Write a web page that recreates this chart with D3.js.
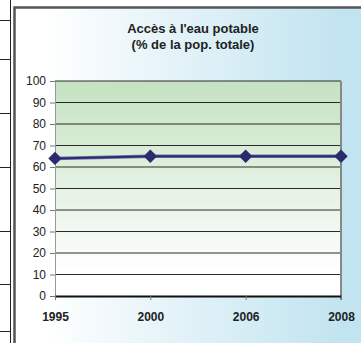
<!DOCTYPE html>
<html>
<head>
<meta charset="utf-8">
<script src="https://cdn.jsdelivr.net/npm/d3@7"></script>
<style>
  body { margin: 0; background: #fff; }
  svg { display: block; font-family: "Liberation Sans", Arial, sans-serif; }
</style>
</head>
<body>
<svg width="361" height="343"></svg>
<script>
// data
const years = ["1995", "2000", "2006", "2008"];
const acces = [64, 65, 65, 65];
const yTicks = [0, 10, 20, 30, 40, 50, 60, 70, 80, 90, 100];
const titleLines = ["Accès à l'eau potable", "(% de la pop. totale)"];

// bits of the neighbouring table on the left
const tableRows = [20, 59, 113, 167, 231, 284, 331];

const svg = d3.select("svg");
const width = +svg.attr("width");
const height = +svg.attr("height");
const margin = {top: 81, right: 20, bottom: 47, left: 55};

const defs = svg.append("defs");
const bg = defs.append("linearGradient").attr("id", "bg")
  .attr("x1", "0%").attr("x2", "100%").attr("y1", "0%").attr("y2", "0%");
bg.append("stop").attr("offset", "8%").attr("stop-color", "#ffffff");
bg.append("stop").attr("offset", "90%").attr("stop-color", "#c2e4f0");

const plotBg = defs.append("linearGradient").attr("id", "plotBg")
  .attr("x1", "0%").attr("x2", "0%").attr("y1", "0%").attr("y2", "100%");
plotBg.append("stop").attr("offset", "0%").attr("stop-color", "#c4e2c1");
plotBg.append("stop").attr("offset", "90%").attr("stop-color", "#ffffff");

// table fragment
svg.append("line")
  .attr("x1", 10.5).attr("x2", 10.5).attr("y1", 0).attr("y2", height)
  .attr("stroke", "#222").attr("stroke-width", 1);
svg.selectAll(".row")
  .data(tableRows)
  .enter().append("line")
  .attr("class", "row")
  .attr("x1", 0).attr("x2", 10).attr("y1", d => d + 0.5).attr("y2", d => d + 0.5)
  .attr("stroke", "#222");

// chart frame
svg.append("rect")
  .attr("x", 14.5).attr("y", 7.5)
  .attr("width", width).attr("height", height)
  .attr("fill", "url(#bg)")
  .attr("stroke", "#555").attr("stroke-width", 2.5);

const x = d3.scalePoint()
  .domain(years)
  .range([margin.left, width - margin.right]);
const y = d3.scaleLinear()
  .domain([0, 100])
  .range([height - margin.bottom, margin.top]);

// plot area
svg.append("rect")
  .attr("x", margin.left).attr("y", y(100))
  .attr("width", x.range()[1] - margin.left)
  .attr("height", y(0) - y(100))
  .attr("fill", "url(#plotBg)");

// gridlines
svg.selectAll(".grid")
  .data(yTicks.filter(d => d > 0))
  .enter().append("line")
  .attr("class", "grid")
  .attr("x1", margin.left).attr("x2", x.range()[1])
  .attr("y1", d => y(d)).attr("y2", d => y(d))
  .attr("stroke", "#2a2a2a").attr("stroke-width", 1);

// right edge of plot
svg.append("line")
  .attr("x1", x.range()[1]).attr("x2", x.range()[1])
  .attr("y1", y(100)).attr("y2", y(0) + 4)
  .attr("stroke", "#888").attr("stroke-width", 2);

// y axis
const yAxis = svg.append("g")
  .attr("transform", `translate(${margin.left},0)`)
  .call(d3.axisLeft(y).tickValues(yTicks).tickSize(5).tickSizeOuter(0).tickPadding(4));
yAxis.select(".domain").attr("stroke", "#999");
yAxis.selectAll(".tick line").attr("stroke", "#777");
yAxis.selectAll("text").attr("font-size", 12).attr("fill", "#222")
  .attr("font-family", "Liberation Sans, Arial, sans-serif");

// x axis
const xAxis = svg.append("g")
  .attr("transform", `translate(0,${y(0)})`)
  .call(d3.axisBottom(x).tickSize(4).tickSizeOuter(0).tickPadding(12));
xAxis.select(".domain").attr("stroke", "#111").attr("stroke-width", 2);
xAxis.selectAll(".tick line").attr("stroke", "#777");
xAxis.selectAll("text").attr("font-size", 12).attr("font-weight", "bold").attr("fill", "#222")
  .attr("font-family", "Liberation Sans, Arial, sans-serif");

// series
const pts = years.map((d, i) => ({year: d, value: acces[i]}));
const line = d3.line().x(d => x(d.year)).y(d => y(d.value));

svg.append("path")
  .datum(pts)
  .attr("d", line)
  .attr("fill", "none")
  .attr("stroke", "#7070aa").attr("stroke-width", 3.5);
svg.append("path")
  .datum(pts)
  .attr("d", line)
  .attr("fill", "none")
  .attr("stroke", "#2b2b70").attr("stroke-width", 2);

svg.selectAll(".mark")
  .data(pts)
  .enter().append("path")
  .attr("class", "mark")
  .attr("d", d3.symbol(d3.symbolDiamond2, 115))
  .attr("transform", d => `translate(${x(d.year)},${y(d.value)})`)
  .attr("fill", "#2a2a6c");

// title
svg.append("text")
  .attr("x", 193).attr("y", 33)
  .attr("text-anchor", "middle")
  .attr("font-size", 13).attr("font-weight", "bold").attr("fill", "#222")
  .selectAll("tspan")
  .data(titleLines)
  .enter().append("tspan")
  .attr("x", 193)
  .attr("dy", (d, i) => i === 0 ? 0 : 16)
  .text(d => d);
</script>
</body>
</html>
